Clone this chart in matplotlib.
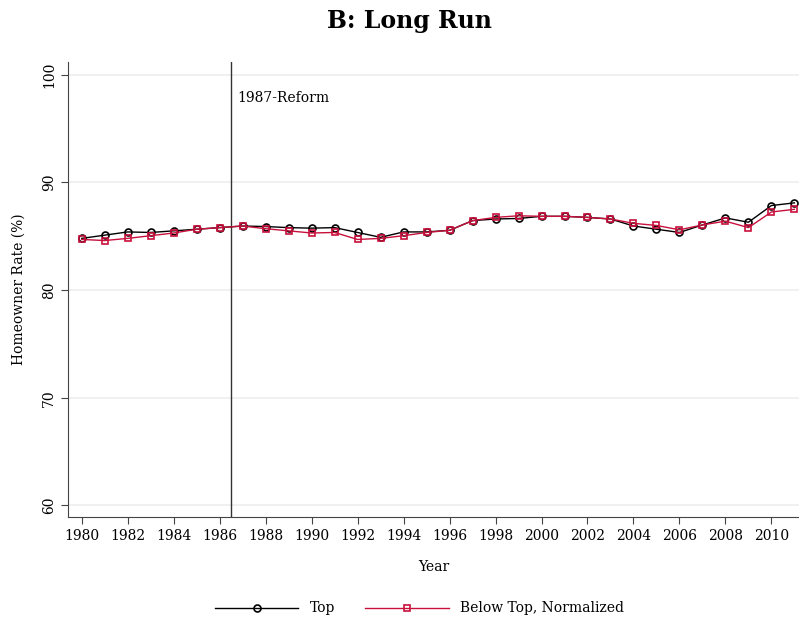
import matplotlib.pyplot as plt

# Homeowner rate by year
years = list(range(1980, 2012))
top = [84.8, 85.1, 85.4, 85.35, 85.5, 85.65, 85.8, 85.95, 85.9, 85.8, 85.75, 85.8,
       85.35, 84.9, 85.4, 85.4, 85.55, 86.45, 86.6, 86.65, 86.85, 86.85, 86.75, 86.6,
       85.95, 85.65, 85.35, 86.05, 86.7, 86.3, 87.85, 88.1]
below_top = [84.7, 84.6, 84.8, 85.05, 85.3, 85.65, 85.8, 85.95, 85.7, 85.5, 85.3, 85.35,
             84.7, 84.8, 85.05, 85.35, 85.55, 86.45, 86.75, 86.9, 86.85, 86.85, 86.75, 86.6,
             86.2, 86.0, 85.6, 86.05, 86.4, 85.8, 87.25, 87.5]
reform_year = 1986.5

red = '#c8103c'
plt.rcParams['font.family'] = ['DejaVu Serif']

fig = plt.figure(figsize=(7.99, 6.18), dpi=100)
ax = fig.add_axes([0.085, 0.163, 0.915, 0.737])

ax.plot(years, top, color='black', linewidth=1, marker='o', markersize=5,
        markerfacecolor='none', markeredgewidth=1.2, label='Top', clip_on=False, zorder=3)
ax.plot(years, below_top, color=red, linewidth=1, marker='s', markersize=5,
        markerfacecolor='none', markeredgewidth=1.2, label='Below Top, Normalized',
        clip_on=False, zorder=4)

ax.axvline(reform_year, color='#333333', linewidth=1)
ax.text(reform_year + 0.25, 97.8, '1987-Reform', fontsize=10, va='center', ha='left')

ax.set_xlim(1979.4, 2011.2)
ax.set_ylim(58.9, 101.2)
ax.set_xticks(range(1980, 2011, 2))
ax.set_yticks([60, 70, 80, 90, 100])
ax.grid(axis='y', color='#eeeeee', linewidth=1.2)
ax.set_axisbelow(True)

for s in ['top', 'right']:
    ax.spines[s].set_visible(False)
for s in ['left', 'bottom']:
    ax.spines[s].set_color('#444444')
ax.tick_params(axis='both', labelsize=10, color='#444444', length=5)
plt.setp(ax.get_yticklabels(), rotation=90, va='center')

ax.set_xlabel('Year', fontsize=10, labelpad=12)
ax.set_ylabel('Homeowner Rate (%)', fontsize=10, labelpad=12)
fig.suptitle('B: Long Run', fontsize=17, fontweight='bold', x=0.513, y=0.985)

fig.legend(loc='lower center', bbox_to_anchor=(0.525, -0.016), ncol=2, frameon=False,
           fontsize=10, handlelength=6, columnspacing=2.2)

plt.savefig('out.png', dpi=100)
